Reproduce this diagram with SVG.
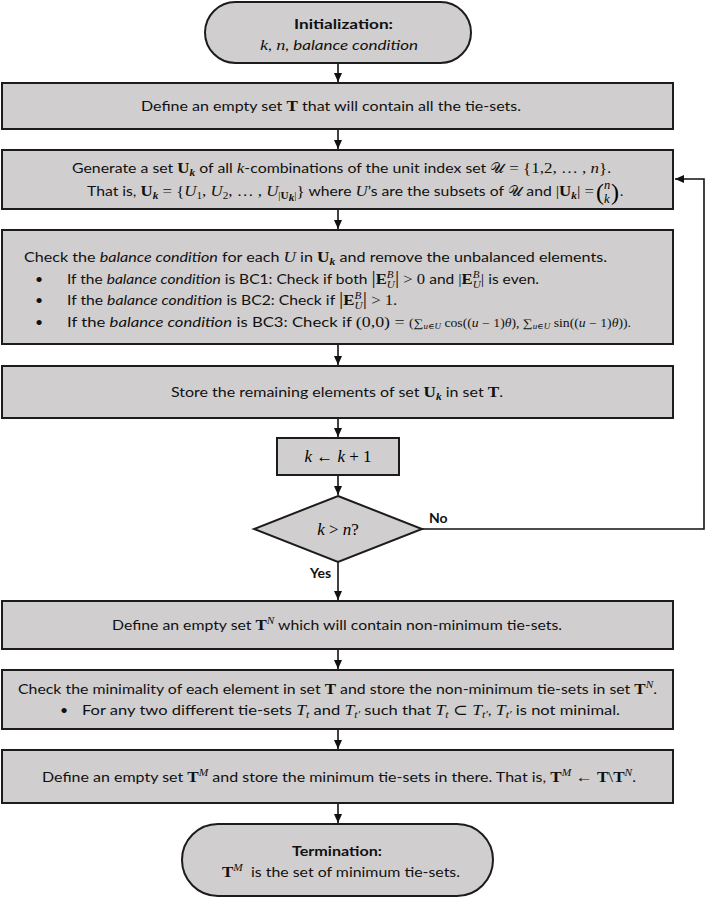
<svg xmlns="http://www.w3.org/2000/svg" width="706" height="898" viewBox="0 0 706 898">
<defs>
<style>
.box{fill:#D0CECE;stroke:#1c1c1c;stroke-width:2}
.ln{fill:none;stroke:#111;stroke-width:1.6}
.t{font-family:Lato,"Liberation Sans",sans-serif;font-size:14px;fill:#111}
.bd{font-weight:bold}
.i{font-style:italic}
.m{font-family:"Liberation Serif","DejaVu Serif",serif;font-style:italic;font-size:15px}
.r{font-family:"Liberation Serif","DejaVu Serif",serif;font-size:15px}
.b{font-family:"Liberation Serif","DejaVu Serif",serif;font-weight:bold;font-size:15px}
.bi{font-family:"Liberation Serif","DejaVu Serif",serif;font-weight:bold;font-style:italic;font-size:10px}
.sm{font-family:"Liberation Serif","DejaVu Serif",serif;font-style:italic;font-size:10px}
.sr{font-family:"Liberation Serif","DejaVu Serif",serif;font-size:10px}
.sc{font-family:"DejaVu Serif","DejaVu Sans","Noto Sans",serif;font-size:14px}
.tm{font-family:"Liberation Serif","DejaVu Serif",serif;font-size:11.5px}
.tmi{font-family:"Liberation Serif","DejaVu Serif",serif;font-size:11.5px;font-style:italic}
.big{font-family:"Liberation Serif","DejaVu Serif",serif;font-size:17px}
</style>
<marker id="ah" markerWidth="10" markerHeight="10" refX="9" refY="5" orient="auto" markerUnits="userSpaceOnUse">
<path d="M0,1 L9,5 L0,9 z" fill="#111"/>
</marker>
</defs>
<rect width="706" height="898" fill="#fff"/>

<g id="connectors">
<line class="ln" x1="338" y1="63" x2="338" y2="82" marker-end="url(#ah)"/>
<line class="ln" x1="338" y1="129" x2="338" y2="149" marker-end="url(#ah)"/>
<line class="ln" x1="338" y1="209" x2="338" y2="229" marker-end="url(#ah)"/>
<line class="ln" x1="338" y1="344" x2="338" y2="365" marker-end="url(#ah)"/>
<line class="ln" x1="338" y1="418" x2="338" y2="437" marker-end="url(#ah)"/>
<line class="ln" x1="338" y1="475" x2="338" y2="495" marker-end="url(#ah)"/>
<line class="ln" x1="338" y1="562" x2="338" y2="600" marker-end="url(#ah)"/>
<line class="ln" x1="338" y1="649" x2="338" y2="669" marker-end="url(#ah)"/>
<line class="ln" x1="338" y1="729" x2="338" y2="749" marker-end="url(#ah)"/>
<line class="ln" x1="338" y1="803" x2="338" y2="823" marker-end="url(#ah)"/>
<polyline class="ln" points="422,529 704,529 704,179 675,179" marker-end="url(#ah)"/>
<text class="t bd" x="429" y="523">No</text>
<text class="t bd" x="310" y="578">Yes</text>
</g>

<g id="init">
<rect class="box" x="205" y="2" width="266" height="61" rx="30.5" ry="30.5"/>
<text class="t bd" x="294" y="29" textLength="99" lengthAdjust="spacingAndGlyphs">Initialization:</text>
<text class="t" x="260" y="50" textLength="158" lengthAdjust="spacingAndGlyphs"><tspan class="m">k</tspan>, <tspan class="m">n</tspan><tspan class="i">, balance condition</tspan></text>
</g>

<g id="defineT">
<rect class="box" x="2" y="83" width="671" height="46"/>
<text class="t" x="141" y="111" textLength="380" lengthAdjust="spacingAndGlyphs">Define an empty set <tspan class="b">T</tspan> that will contain all the tie-sets.</text>
</g>

<g id="generate">
<rect class="box" x="2" y="150" width="671" height="59"/>
<text class="t" x="72" y="173" textLength="539" lengthAdjust="spacingAndGlyphs">Generate a set <tspan class="b">U</tspan><tspan class="bi" dy="3">k</tspan><tspan dy="-3"> of all </tspan><tspan class="m">k</tspan>-combinations of the unit index set <tspan class="sc">𝒰</tspan><tspan class="r"> = {1,2, … , </tspan><tspan class="m">n</tspan><tspan class="r">}</tspan>.</text>
<text class="t" x="87" y="196" textLength="507" lengthAdjust="spacingAndGlyphs">That is, <tspan class="b">U</tspan><tspan class="bi" dy="3">k</tspan><tspan class="r" dy="-3"> = {</tspan><tspan class="m">U</tspan><tspan class="sr" dy="3">1</tspan><tspan class="r" dy="-3">, </tspan><tspan class="m">U</tspan><tspan class="sr" dy="3">2</tspan><tspan class="r" dy="-3">, … , </tspan><tspan class="m">U</tspan><tspan class="sr" dy="3">|</tspan><tspan class="sr" font-weight="bold">U</tspan><tspan class="bi" font-size="8" dy="1.5">k</tspan><tspan class="sr" dy="-1.5">|</tspan><tspan class="r" dy="-3">}</tspan> where <tspan class="m">U</tspan>’s are the subsets of <tspan class="sc">𝒰</tspan> and <tspan class="r">|</tspan><tspan class="b">U</tspan><tspan class="bi" dy="3">k</tspan><tspan class="r" dy="-3">| = </tspan></text>
<text class="r" x="596" y="200" style="font-size:24px">(</text>
<text class="m" x="604" y="189" style="font-size:12.5px">n</text>
<text class="m" x="604" y="203" style="font-size:12.5px">k</text>
<text class="r" x="611" y="200" style="font-size:24px">)</text>
<text class="t" x="620" y="196">.</text>
</g>

<g id="balance">
<rect class="box" x="2" y="230" width="671" height="114"/>
<text class="t" x="24" y="262" textLength="583" lengthAdjust="spacingAndGlyphs">Check the <tspan class="i">balance condition</tspan> for each <tspan class="m">U</tspan> in <tspan class="b">U</tspan><tspan class="bi" dy="3">k</tspan><tspan dy="-3"> and remove the unbalanced elements.</tspan></text>
<text class="t" x="35" y="284">•</text>
<text class="t" x="67" y="284" textLength="472" lengthAdjust="spacingAndGlyphs">If the <tspan class="i">balance condition</tspan> is BC1: Check if both <tspan class="r" style="font-size:19px">|</tspan><tspan class="b">E</tspan><tspan class="sm" dy="-6">B</tspan><tspan class="sm" dx="-6" dy="10">U</tspan><tspan class="r" dy="-4" style="font-size:19px">|</tspan><tspan class="r"> &gt; 0</tspan> and <tspan class="r">|</tspan><tspan class="b">E</tspan><tspan class="sm" dy="-6">B</tspan><tspan class="sm" dx="-6" dy="10">U</tspan><tspan class="r" dy="-4">|</tspan> is even.</text>
<text class="t" x="35" y="305">•</text>
<text class="t" x="67" y="305" textLength="330" lengthAdjust="spacingAndGlyphs">If the <tspan class="i">balance condition</tspan> is BC2: Check if <tspan class="r" style="font-size:19px">|</tspan><tspan class="b">E</tspan><tspan class="sm" dy="-6">B</tspan><tspan class="sm" dx="-6" dy="10">U</tspan><tspan class="r" dy="-4" style="font-size:19px">|</tspan><tspan class="r"> &gt; 1</tspan>.</text>
<text class="t" x="35" y="327">•</text>
<text class="t" x="67" y="327" textLength="564" lengthAdjust="spacingAndGlyphs">If the <tspan class="i">balance condition</tspan> is BC3: Check if <tspan class="r">(0,0) = </tspan><tspan class="tm">(∑</tspan><tspan class="sm" style="font-size:7.5px" dy="2">u∈U</tspan><tspan class="tm" dy="-2"> cos((</tspan><tspan class="tmi">u</tspan><tspan class="tm"> − 1)</tspan><tspan class="tmi">θ</tspan><tspan class="tm">), ∑</tspan><tspan class="sm" style="font-size:7.5px" dy="2">u∈U</tspan><tspan class="tm" dy="-2"> sin((</tspan><tspan class="tmi">u</tspan><tspan class="tm"> − 1)</tspan><tspan class="tmi">θ</tspan><tspan class="tm">)).</tspan></text>
</g>

<g id="store">
<rect class="box" x="2" y="366" width="671" height="52"/>
<text class="t" x="171" y="397" textLength="332" lengthAdjust="spacingAndGlyphs">Store the remaining elements of set <tspan class="b">U</tspan><tspan class="bi" dy="3">k</tspan><tspan dy="-3"> in set </tspan><tspan class="b">T</tspan>.</text>
</g>

<g id="increment">
<rect class="box" x="277" y="438" width="122" height="37"/>
<text class="big" x="338" y="462" text-anchor="middle"><tspan font-style="italic">k</tspan> ← <tspan font-style="italic">k</tspan> + 1</text>
</g>

<g id="decision">
<polygon class="box" points="338,496 422,529 338,562 254,529"/>
<text class="big" x="338" y="535" text-anchor="middle"><tspan font-style="italic">k</tspan> &gt; <tspan font-style="italic">n</tspan>?</text>
</g>

<g id="defineTN">
<rect class="box" x="2" y="601" width="671" height="48"/>
<text class="t" x="112" y="630" textLength="450" lengthAdjust="spacingAndGlyphs">Define an empty set <tspan class="b">T</tspan><tspan class="sm" dy="-6">N</tspan><tspan dy="6"> which will contain non-minimum tie-sets.</tspan></text>
</g>

<g id="minimality">
<rect class="box" x="2" y="670" width="671" height="59"/>
<text class="t" x="18" y="694" textLength="639" lengthAdjust="spacingAndGlyphs">Check the minimality of each element in set <tspan class="b">T</tspan> and store the non-minimum tie-sets in set <tspan class="b">T</tspan><tspan class="sm" dy="-6">N</tspan><tspan dy="6">.</tspan></text>
<text class="t" x="60" y="715">•</text>
<text class="t" x="82" y="715" textLength="538" lengthAdjust="spacingAndGlyphs">For any two different tie-sets <tspan class="m">T</tspan><tspan class="sm" dy="3">t</tspan><tspan dy="-3"> and </tspan><tspan class="m">T</tspan><tspan class="sm" dy="3">t′</tspan><tspan dy="-3"> such that </tspan><tspan class="m">T</tspan><tspan class="sm" dy="3">t</tspan><tspan class="r" dy="-3"> ⊂ </tspan><tspan class="m">T</tspan><tspan class="sm" dy="3">t′</tspan><tspan dy="-3">, </tspan><tspan class="m">T</tspan><tspan class="sm" dy="3">t′</tspan><tspan dy="-3"> is not minimal.</tspan></text>
</g>

<g id="defineTM">
<rect class="box" x="2" y="750" width="671" height="53"/>
<text class="t" x="42" y="782" textLength="594" lengthAdjust="spacingAndGlyphs">Define an empty set <tspan class="b">T</tspan><tspan class="sm" dy="-6">M</tspan><tspan dy="6"> and store the minimum tie-sets in there. That is, </tspan><tspan class="b">T</tspan><tspan class="sm" dy="-6">M</tspan><tspan class="r" dy="6"> ← </tspan><tspan class="b">T</tspan><tspan class="r">\</tspan><tspan class="b">T</tspan><tspan class="sm" dy="-6">N</tspan><tspan dy="6">.</tspan></text>
</g>

<g id="termination">
<rect class="box" x="182" y="824" width="311" height="72" rx="36" ry="36"/>
<text class="t bd" x="292" y="856" textLength="90" lengthAdjust="spacingAndGlyphs">Termination:</text>
<text class="t" x="222" y="877" textLength="238" lengthAdjust="spacingAndGlyphs"><tspan class="b">T</tspan><tspan class="sm" dy="-6">M</tspan><tspan dy="6">&#160; is the set of minimum tie-sets.</tspan></text>
</g>
</svg>
